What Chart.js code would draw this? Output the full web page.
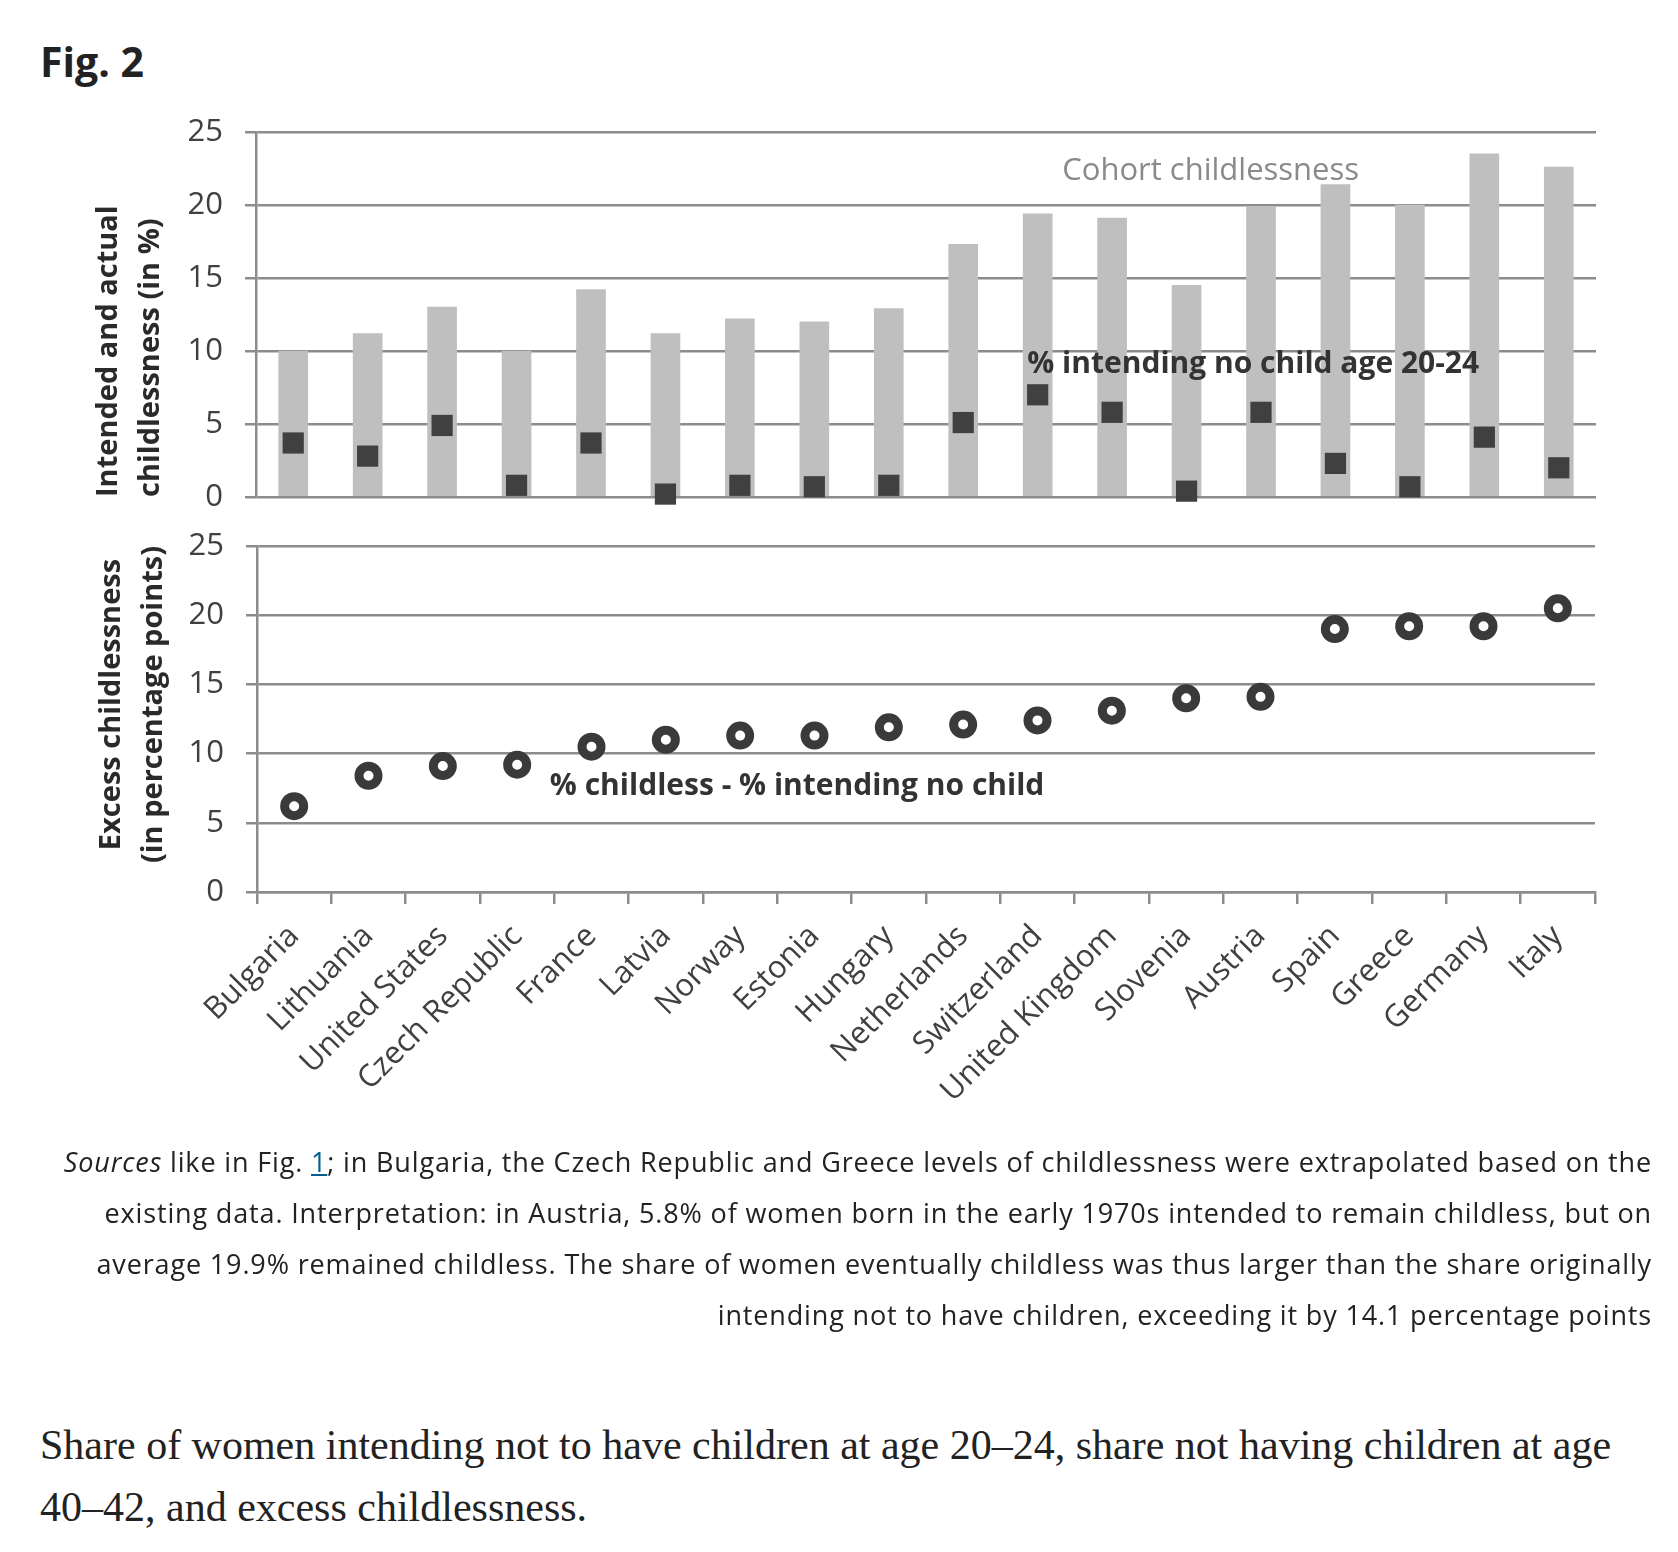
<!DOCTYPE html>
<html><head><meta charset="utf-8">
<script src="https://cdn.jsdelivr.net/npm/chart.js@4.4.0/dist/chart.umd.min.js"></script>
<style>
html,body{margin:0;padding:0;background:#fff;}
body{width:1678px;height:1552px;position:relative;overflow:hidden;}
#fig{position:absolute;left:40px;top:41px;font:700 41px/1 'Open Sans',sans-serif;color:#222;}
canvas{position:absolute;left:0;}
#c1{top:90px;}
#c2{top:500px;}
#cap{position:absolute;right:26px;top:1136px;font:27px/51px 'Open Sans',sans-serif;letter-spacing:0.85px;color:#222;text-align:right;white-space:nowrap;}
#cap a{color:#025e8d;text-decoration:underline;}
#desc{position:absolute;left:40px;top:1414px;font:42px/62px 'Liberation Serif',serif;color:#222;white-space:nowrap;}
</style></head><body>
<div id="fig">Fig. 2</div>
<canvas id="c1" width="1678" height="450"></canvas>
<canvas id="c2" width="1678" height="640"></canvas>
<div id="cap"><i>Sources</i> like in Fig. <a>1</a>; in Bulgaria, the Czech Republic and Greece levels of childlessness were extrapolated based on the<br>existing data. Interpretation: in Austria, 5.8% of women born in the early 1970s intended to remain childless, but on<br>average 19.9% remained childless. The share of women eventually childless was thus larger than the share originally<br>intending not to have children, exceeding it by 14.1 percentage points</div>
<div id="desc">Share of women intending not to have children at age 20–24, share not having children at age<br>40–42, and excess childlessness.</div>
<script>
const countries = ['Bulgaria','Lithuania','United States','Czech Republic','France','Latvia','Norway','Estonia','Hungary','Netherlands','Switzerland','United Kingdom','Slovenia','Austria','Spain','Greece','Germany','Italy'];
const cohortChildless = [10.0, 11.2, 13.0, 10.0, 14.2, 11.2, 12.2, 12.0, 12.9, 17.3, 19.4, 19.1, 14.5, 19.9, 21.4, 20.0, 23.5, 22.6];
const intendingNoChild = [3.7, 2.8, 4.9, 0.8, 3.7, 0.2, 0.8, 0.7, 0.8, 5.1, 7.0, 5.8, 0.4, 5.8, 2.3, 0.7, 4.1, 2.0];
const excessChildless = [6.2, 8.4, 9.1, 9.2, 10.5, 11.0, 11.3, 11.3, 11.9, 12.1, 12.4, 13.1, 14.0, 14.1, 19.0, 19.2, 19.2, 20.5];
const yMin = 0, yMax = 25, yStep = 5;
const topTitle = ['Intended and actual', 'childlessness (in %)'];
const bottomTitle = ['\u2003Excess childlessness', '\u2003(in percentage points)'];

const GRID = '#8c8c8c';
const TXT = '#404040';
const FAM = "'Open Sans', sans-serif";

const textNotes = {
  id: 'textNotes',
  afterDatasetsDraw(chart, args, opts) {
    const ctx = chart.ctx, xs = chart.scales.x, ys = chart.scales.y;
    (opts.items || []).forEach(it => {
      ctx.save();
      ctx.font = it.font; ctx.fillStyle = it.color;
      ctx.textAlign = 'left'; ctx.textBaseline = 'middle';
      ctx.fillText(it.text, xs.getPixelForValue(it.x), ys.getPixelForValue(it.y));
      ctx.restore();
    });
  }
};

function yScale(title, align, width) {
  return {
    min: yMin, max: yMax,
    ticks: {stepSize: yStep, padding: 22, color: TXT, font: {family: FAM, size: 31}},
    grid: {color: GRID, lineWidth: 2.5, tickLength: 11, drawTicks: true},
    border: {display: true, color: GRID, width: 2.5},
    title: {display: true, text: title, align: align, color: '#2a2a2a',
            font: {family: FAM, size: 29, weight: 'bold', lineHeight: 1.45}, padding: 0},
    afterFit(s) { s.width = width; }
  };
}

function draw() {
  new Chart(document.getElementById('c1'), {
    type: 'bar',
    data: {
      labels: countries,
      datasets: [
        {type: 'line', data: intendingNoChild, showLine: false, pointStyle: 'rect',
         pointRadius: 15, pointHoverRadius: 15, pointBackgroundColor: '#404040',
         pointBorderWidth: 0, pointBorderColor: '#404040', clip: false, order: 0},
        {type: 'bar', data: cohortChildless, backgroundColor: '#bfbfbf', barThickness: 29, order: 1}
      ]
    },
    options: {
      responsive: false, animation: false, devicePixelRatio: 1,
      layout: {padding: {top: 42, left: 88, right: 82, bottom: 43}},
      scales: {
        x: {type: 'category', display: false, offset: true},
        y: yScale(topTitle, 'start', 168)
      },
      plugins: {
        legend: {display: false}, tooltip: {enabled: false},
        textNotes: {items: [
          {text: 'Cohort childlessness', x: 10.33, y: 22.3, color: '#8a8a8a', font: "31px 'Open Sans'"},
          {text: '% intending no child age 20-24', x: 9.86, y: 9.1, color: '#333', font: "bold 30px 'Open Sans'"}
        ]}
      }
    },
    plugins: [textNotes]
  });

  new Chart(document.getElementById('c2'), {
    type: 'line',
    data: {
      labels: countries,
      datasets: [
        {data: excessChildless, showLine: false, pointStyle: 'circle', pointRadius: 9.5,
         pointHoverRadius: 9.5, pointBorderWidth: 9, pointBorderColor: '#3a3a3a',
         pointBackgroundColor: '#ffffff', clip: false}
      ]
    },
    options: {
      responsive: false, animation: false, devicePixelRatio: 1,
      layout: {padding: {top: 46, left: 91, right: 83, bottom: 28}},
      scales: {
        x: {type: 'category', offset: true,
            grid: {offset: true, drawOnChartArea: false, drawTicks: true, tickLength: 12, color: GRID, lineWidth: 2.5},
            border: {display: true, color: GRID, width: 2.5},
            ticks: {autoSkip: false, maxRotation: 45, minRotation: 45, padding: 14, color: TXT, font: {family: FAM, size: 31}},
            afterFit(s) { s.height = 220; }
        },
        y: yScale(bottomTitle, 'center', 166)
      },
      plugins: {
        legend: {display: false}, tooltip: {enabled: false},
        textNotes: {items: [
          {text: '% childless - % intending no child', x: 3.44, y: 7.6, color: '#333', font: "bold 30px 'Open Sans'"}
        ]}
      }
    },
    plugins: [textNotes]
  });
}

Promise.all([
  document.fonts.load("31px 'Open Sans'"),
  document.fonts.load("bold 31px 'Open Sans'")
]).then(draw, draw);
</script>
</body></html>
